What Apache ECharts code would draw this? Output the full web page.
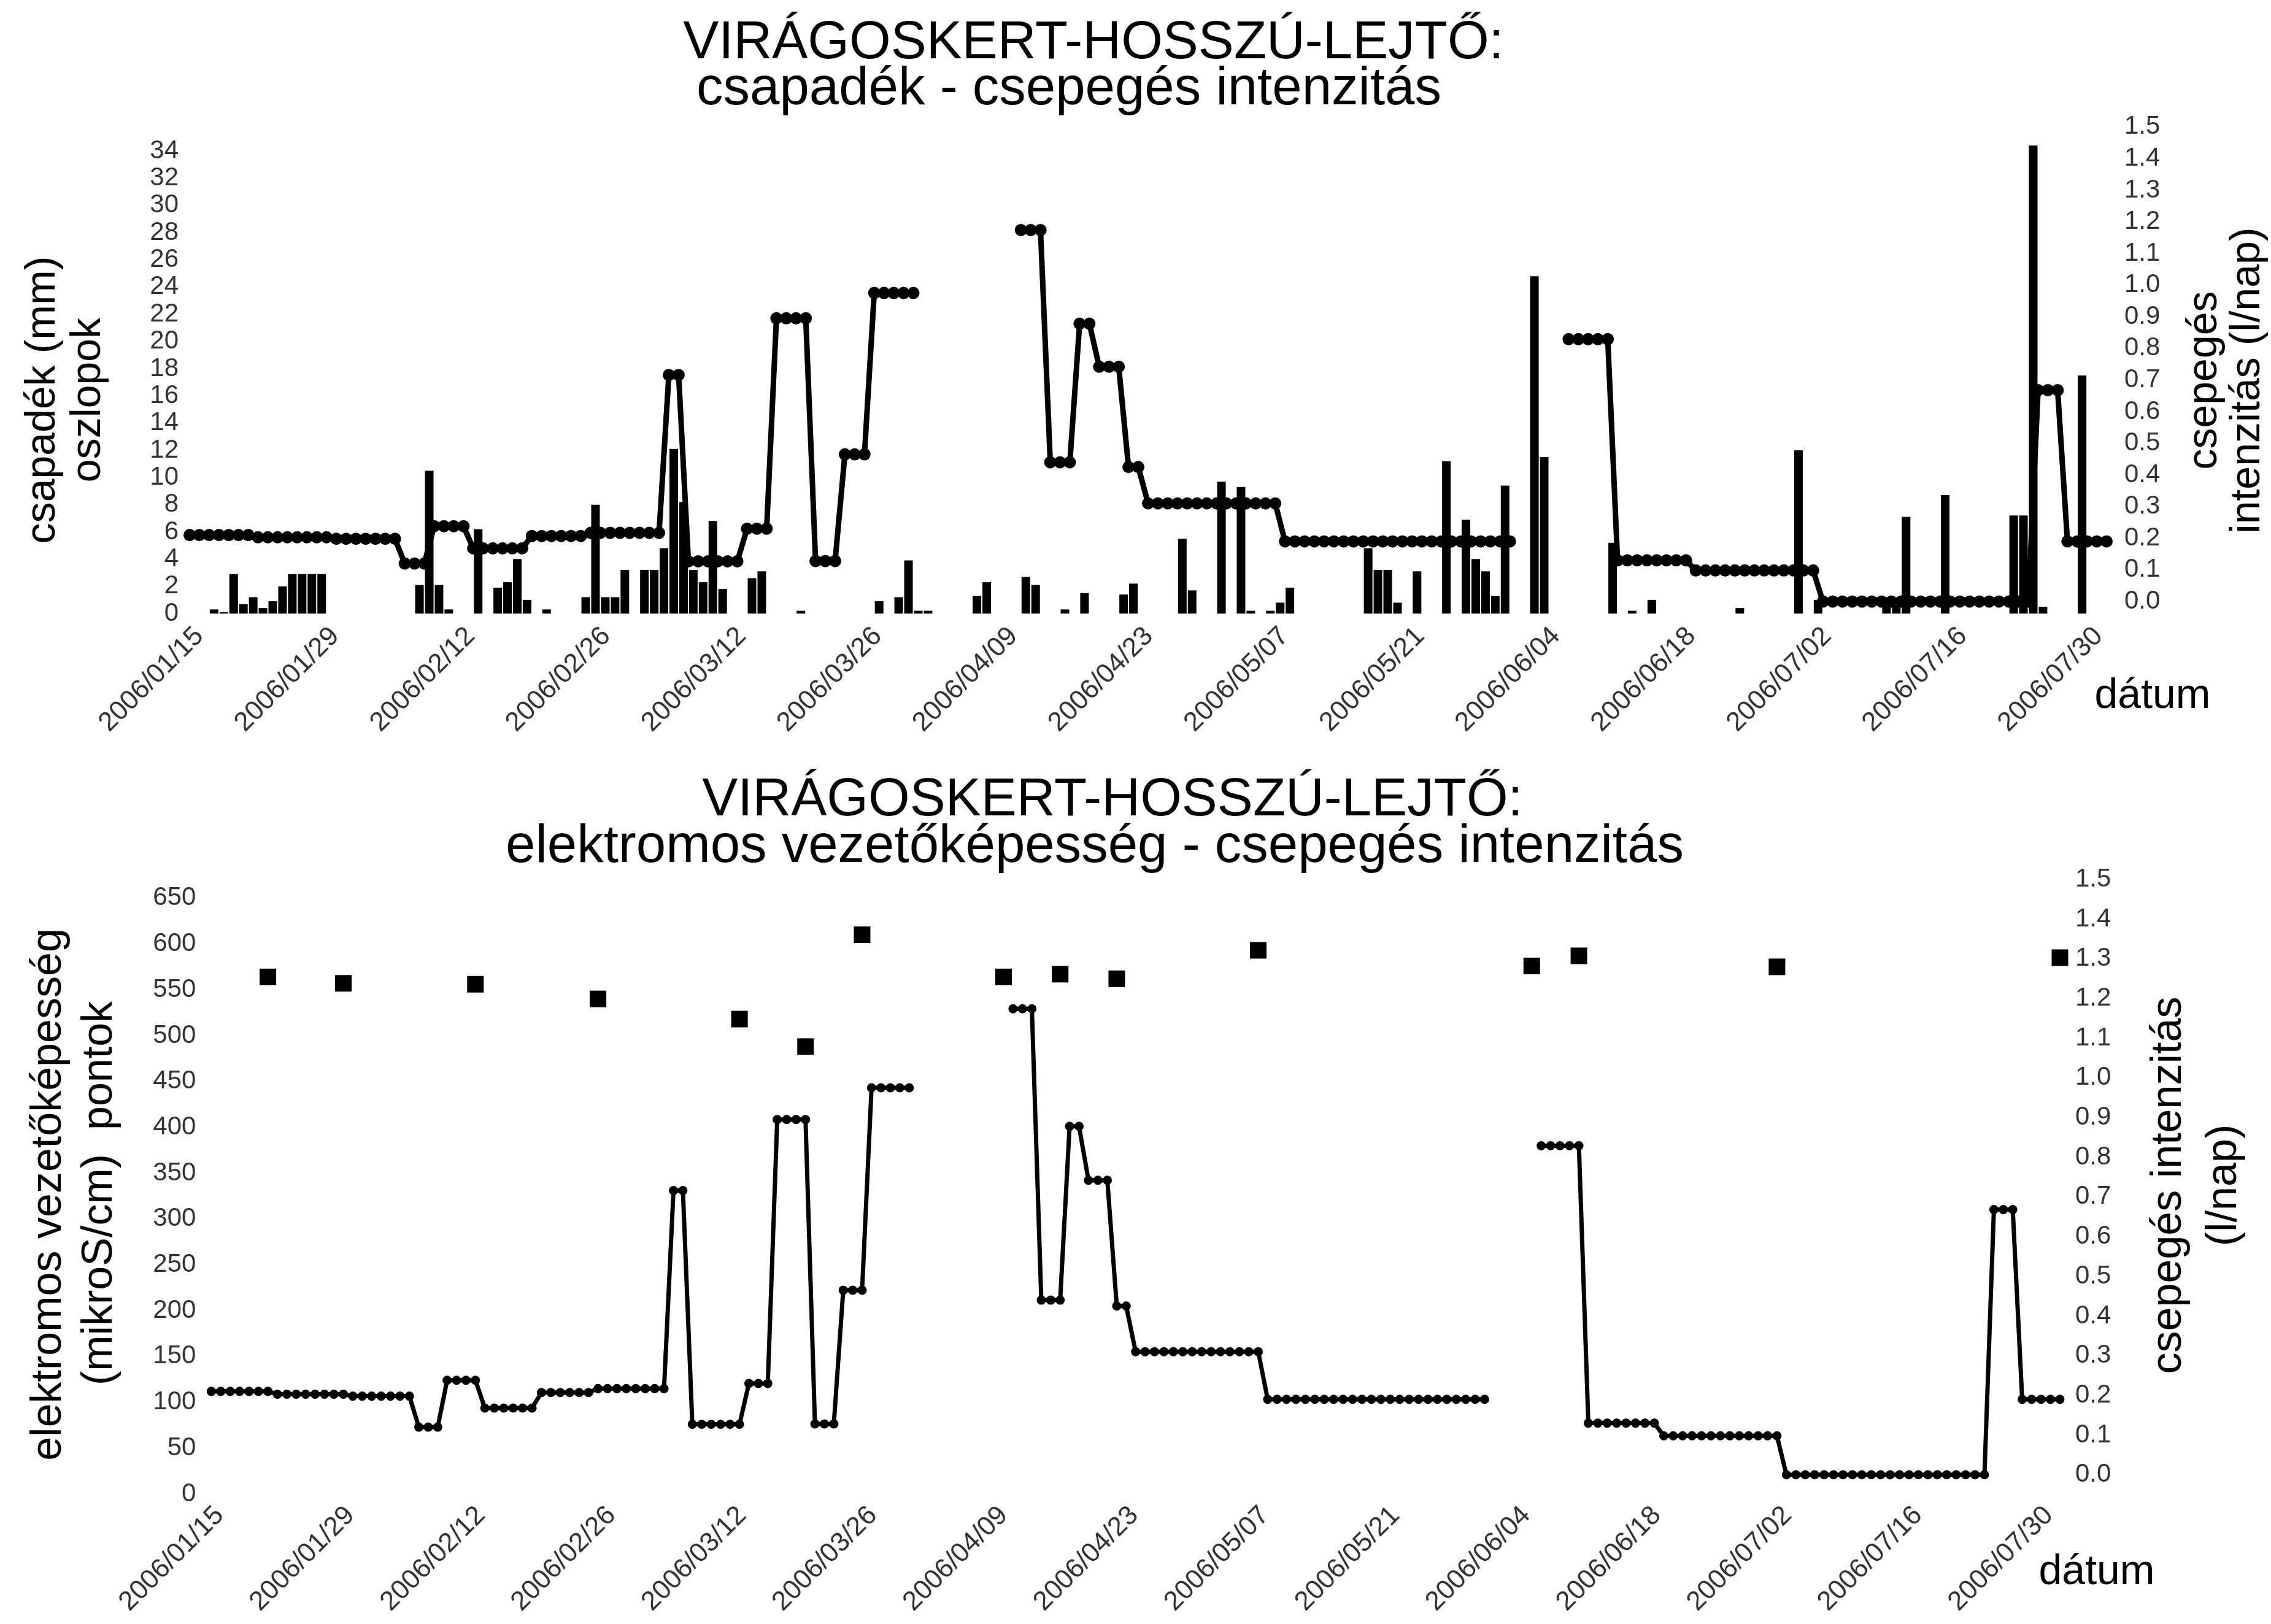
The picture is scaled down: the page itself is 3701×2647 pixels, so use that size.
<!DOCTYPE html>
<html><head><meta charset="utf-8">
<script src="https://cdn.jsdelivr.net/npm/echarts@6/dist/echarts.min.js"></script>
<style>html,body{margin:0;padding:0;background:#fff}#c{width:3701px;height:2647px}</style>
</head><body><div id="c"></div>
<script>
// ---- categories (daily, 2006/01/15 .. 2006/07/30) ----
const categories = [];
(function(){ const s = Date.UTC(2006,0,15); for (let i=0;i<197;i++){ const d=new Date(s+i*86400000);
  categories.push(d.getUTCFullYear()+'/'+String(d.getUTCMonth()+1).padStart(2,'0')+'/'+String(d.getUTCDate()).padStart(2,'0')); } })();

// ---- dripping intensity (l/nap), one value per day ----
const drip = [
 0.21,0.21,0.21,0.21,0.21,0.21,0.21,
 0.203,0.203,0.203,0.203,0.203,0.203,0.203,0.203,
 0.198,0.198,0.198,0.198,0.198,0.198,0.198,
 0.12,0.12,0.12,
 0.238,0.238,0.238,0.238,
 0.168,0.168,0.168,0.168,0.168,0.168,
 0.207,0.207,0.207,0.207,0.207,0.207,
 0.217,0.217,0.217,0.217,0.217,0.217,0.217,0.217,
 0.716,0.716,
 0.127,0.127,0.127,0.127,0.127,0.127,
 0.23,0.23,0.23,
 0.895,0.895,0.895,0.895,
 0.128,0.128,0.128,
 0.465,0.465,0.465,
 0.975,0.975,0.975,0.975,0.975,
 null,null,null,null,null,null,null,null,null,null,
 1.174,1.174,1.174,
 0.44,0.44,0.44,
 0.878,0.878,
 0.742,0.742,0.742,
 0.425,0.425,
 0.31,0.31,0.31,0.31,0.31,0.31,0.31,0.31,0.31,0.31,0.31,0.31,0.31,0.31,
 0.19,0.19,0.19,0.19,0.19,0.19,0.19,0.19,0.19,0.19,0.19,0.19,0.19,0.19,0.19,0.19,0.19,0.19,0.19,0.19,0.19,0.19,0.19,0.19,
 null,null,null,null,null,
 0.829,0.829,0.829,0.829,0.829,
 0.13,0.13,0.13,0.13,0.13,0.13,0.13,0.13,
 0.098,0.098,0.098,0.098,0.098,0.098,0.098,0.098,0.098,0.098,0.098,0.098,0.098,
 0,0,0,0,0,0,0,0,0,0,0,0,0,0,0,0,0,0,0,0,0,0,
 0.668,0.668,0.668,
 0.19,0.19,0.19,0.19,0.19
];

// ---- precipitation (mm) ----
const rainDates = ['2006/01/17','2006/01/18','2006/01/19','2006/01/20','2006/01/21','2006/01/22','2006/01/23','2006/01/24','2006/01/25','2006/01/26','2006/01/27','2006/01/28',
 '2006/02/07','2006/02/08','2006/02/09','2006/02/10','2006/02/13','2006/02/15','2006/02/16','2006/02/17','2006/02/18','2006/02/20','2006/02/24','2006/02/25','2006/02/26','2006/02/27','2006/02/28',
 '2006/03/02','2006/03/03','2006/03/04','2006/03/05','2006/03/06','2006/03/07','2006/03/08','2006/03/09','2006/03/10','2006/03/13','2006/03/14','2006/03/18','2006/03/26','2006/03/28','2006/03/29','2006/03/30','2006/03/31',
 '2006/04/05','2006/04/06','2006/04/10','2006/04/11','2006/04/14','2006/04/16','2006/04/20','2006/04/21','2006/04/26','2006/04/27','2006/04/30',
 '2006/05/02','2006/05/03','2006/05/05','2006/05/06','2006/05/07','2006/05/15','2006/05/16','2006/05/17','2006/05/18','2006/05/20','2006/05/23','2006/05/25','2006/05/26','2006/05/27','2006/05/28','2006/05/29',
 '2006/06/01','2006/06/02','2006/06/09','2006/06/11','2006/06/13','2006/06/22','2006/06/28','2006/06/30',
 '2006/07/07','2006/07/08','2006/07/09','2006/07/13','2006/07/20','2006/07/21','2006/07/22','2006/07/23','2006/07/27'];
const rainMm = [0.3,0.1,2.9,0.7,1.2,0.4,0.9,2.0,2.9,2.9,2.9,2.9,
 2.1,10.5,2.1,0.3,6.2,1.9,2.3,4.0,1.0,0.3,1.2,8.0,1.2,1.2,3.2,
 3.2,3.2,4.8,12.1,8.2,3.2,2.3,6.8,1.8,2.6,3.1,0.2,0.9,1.2,3.9,0.2,0.2,
 1.3,2.3,2.7,2.1,0.3,1.5,1.4,2.2,5.5,1.7,9.7,
 9.3,0.2,0.2,0.8,1.9,4.8,3.2,3.2,0.8,3.1,11.2,6.9,4.0,3.1,1.3,9.4,
 24.8,11.5,5.2,0.2,1.0,0.4,12.0,1.0,
 0.6,0.6,7.1,8.7,7.2,7.2,34.4,0.5,17.5];

// ---- electric conductivity (mikroS/cm) ----
const ecDates = ['2006/01/21','2006/01/29','2006/02/12','2006/02/25','2006/03/12','2006/03/19','2006/03/25','2006/04/09','2006/04/15','2006/04/21','2006/05/06','2006/06/04','2006/06/09','2006/06/30','2006/07/30'];
const ecValues = [564,557,556,540,518,488,610,564,567,562,593,576,587,575,585];

// ---- tick values ----
const rainTicks = {min:0, max:34, step:2};
const dripTicks = {min:0, max:1.5, step:0.1};
const ecTicks = {min:0, max:650, step:50};

const rainSeries = categories.map(c => { const i = rainDates.indexOf(c); return i < 0 ? null : rainMm[i]; });
const ecSeries = ecDates.map((d,i) => [categories.indexOf(d), ecValues[i]]);

const FF = "'Liberation Sans', Arial, Helvetica, sans-serif";
const TC = '#333';
const chart = echarts.init(document.getElementById('c'), null, {renderer:'canvas'});

function xAx(grid, show, margin){
  return {type:'category', gridIndex:grid, data:categories, boundaryGap:false,
    axisLine:{show:false}, axisTick:{show:false}, splitLine:{show:false},
    axisLabel:{show:show, interval:13, rotate:45, fontSize:44, color:TC, fontFamily:FF, margin:margin||0}};
}
function yAx(grid, pos, t, margin, fmt){
  return {type:'value', gridIndex:grid, position:pos, min:t.min, max:t.max, interval:t.step,
    axisLine:{show:false}, axisTick:{show:false}, splitLine:{show:false},
    axisLabel:{fontSize:42, color:TC, fontFamily:FF, margin:margin, formatter:fmt}};
}
function hidY(grid){ return {type:'value', gridIndex:grid, show:false, min:0, max:1, splitLine:{show:false}}; }
function txt(x,y,t,size,rot){
  return {type:'text', x:x, y:y, rotation: rot ? Math.PI/2 : 0,
    style:{text:t, fontSize:size, fontFamily:FF, fill:'#000', align:'center', verticalAlign:'middle', textAlign:'center', textVerticalAlign:'middle'}};
}
const f1 = v => v.toFixed(1);

chart.setOption({
  animation:false,
  backgroundColor:'#fff',
  grid:[
    {left:317, top:246.2, width:3124, height:753.8},
    {left:309, top:206.8, width:3124, height:773.6},
    {left:325, top:246.2, width:3095, height:753.8},
    {left:344.4, top:1463.8, width:3012.6, height:971.2},
    {left:344.4, top:1433.4, width:3012.6, height:970.3},
    {left:358, top:1463.8, width:2981, height:971.2}
  ],
  xAxis:[ xAx(0,false), xAx(1,false), xAx(2,true,30), xAx(3,false), xAx(4,false), xAx(5,true,28) ],
  yAxis:[
    yAx(0,'left',rainTicks,26),
    yAx(1,'right',dripTicks,29,f1),
    hidY(2),
    yAx(3,'left',ecTicks,25),
    yAx(4,'right',dripTicks,25,f1),
    hidY(5)
  ],
  series:[
    {type:'bar', xAxisIndex:0, yAxisIndex:0, data:rainSeries, barWidth:14, clip:false,
      itemStyle:{color:'#000', opacity:1}},
    {type:'line', xAxisIndex:1, yAxisIndex:1, data:drip, symbol:'circle', symbolSize:20, showAllSymbol:true,
      connectNulls:false, lineStyle:{width:9, color:'#000'}, itemStyle:{color:'#000', opacity:1}},
    {type:'scatter', xAxisIndex:3, yAxisIndex:3, data:ecSeries, symbol:'rect', symbolSize:27,
      itemStyle:{color:'#000', opacity:1}},
    {type:'line', xAxisIndex:4, yAxisIndex:4, data:drip, symbol:'circle', symbolSize:15, showAllSymbol:true,
      connectNulls:false, lineStyle:{width:7, color:'#000'}, itemStyle:{color:'#000', opacity:1}}
  ],
  graphic:[
    txt(1782,71,'VIRÁGOSKERT-HOSSZÚ-LEJTŐ:',87),
    txt(1742,146,'csapadék - csepegés intenzitás',87),
    txt(1813,1305,'VIRÁGOSKERT-HOSSZÚ-LEJTŐ:',87),
    txt(1784,1381,'elektromos vezetőképesség - csepegés intenzitás',87),
    txt(70,652,'csapadék (mm)',68,true),
    txt(144,652,'oszlopok',68,true),
    txt(3593,620,'csepegés',68,true),
    txt(3663,620,'intenzitás (l/nap)',68,true),
    txt(80,1947,'elektromos vezetőképesség',70,true),
    txt(163,1945,'(mikroS/cm)  pontok',70,true),
    txt(3535,1932,'csepegés intenzitás',70,true),
    txt(3625,1932,'(l/nap)',70,true),
    txt(3508,1135,'dátum',68),
    txt(3417,2563,'dátum',68)
  ]
});
</script></body></html>
